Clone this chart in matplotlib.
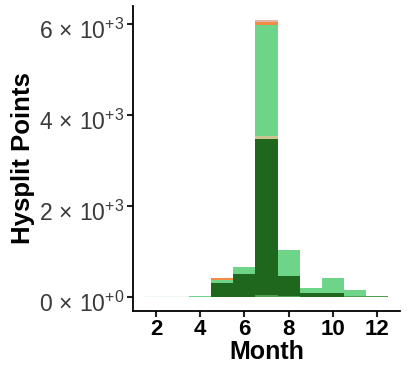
import numpy as np
import matplotlib
matplotlib.use("Agg")
import matplotlib.pyplot as plt
from matplotlib.transforms import ScaledTranslation

plt.rcParams["font.family"] = ["Liberation Sans", "DejaVu Sans"]
plt.rcParams["mathtext.fontset"] = "custom"
plt.rcParams["mathtext.rm"] = "Liberation Sans"
plt.rcParams["mathtext.it"] = "Liberation Sans:italic"
plt.rcParams["mathtext.bf"] = "Liberation Sans:bold"

months = np.arange(1, 13)

# Hysplit point counts per month, stacked by source group (bottom to top)
pale_mint   = [0, 15, 15, 0, 0, 0, 0, 0, 0, 0, 0, 0]
mid_green   = [0, 0, 0, 0, 0, 0, 40, 15, 0, 0, 15, 30]
dark_green  = [0, 0, 0, 0, 300, 500, 3440, 450, 90, 100, 10, 0]
tan         = [0, 0, 0, 0, 0, 0, 50, 0, 0, 0, 0, 0]
light_green = [0, 0, 0, 15, 70, 160, 2440, 565, 110, 320, 130, 0]
orange      = [0, 0, 0, 0, 50, 0, 70, 0, 0, 0, 0, 0]
pink        = [0, 0, 0, 0, 0, 0, 50, 0, 0, 0, 0, 0]

layers = [
    (pale_mint, "#eef6f0"),
    (mid_green, "#4f9f52"),
    (dark_green, "#1f671d"),
    (tan, "#cbc58f"),
    (light_green, "#6dd488"),
    (orange, "#f08a45"),
    (pink, "#e3b3a8"),
]

y_ticks = [0, 2000, 4000, 6000]
y_tick_labels = [r"$0\,\times\,10^{+0}$", r"$2\,\times\,10^{+3}$",
                 r"$4\,\times\,10^{+3}$", r"$6\,\times\,10^{+3}$"]
x_ticks = [2, 4, 6, 8, 10, 12]

fig = plt.figure(figsize=(4.09, 3.71), dpi=100)
ax = fig.add_axes([133 / 409, (371 - 311) / 371, (400 - 133) / 409, (311 - 6) / 371])

bottom = np.zeros(len(months))
for vals, col in layers:
    v = np.array(vals, dtype=float)
    ax.bar(months, v, width=1.0, bottom=bottom, color=col, linewidth=0, align="center")
    bottom += v

top = bottom.max()
lo_x, hi_x = 1.5, 12.5
pad_x = 0.05 * (hi_x - lo_x)
ax.set_xlim(lo_x - pad_x, hi_x + pad_x)
ax.set_ylim(-0.05 * top, 1.05 * top)

for s in ["top", "right"]:
    ax.spines[s].set_visible(False)
for s in ["left", "bottom"]:
    ax.spines[s].set_linewidth(1.3)
    ax.spines[s].set_color("black")

ax.set_yticks(y_ticks)
ax.set_yticklabels(y_tick_labels, fontsize=16.5, color="#3a3a3a")
ax.set_xticks(x_ticks)
ax.set_xticklabels([str(t) for t in x_ticks], fontsize=16, fontweight="bold", color="black")
ax.tick_params(axis="both", length=4, width=1.5, color="#222222", pad=2)

# nudge the y tick labels down so the mantissa sits just below each tick
shift = ScaledTranslation(0, -5 / 100, fig.dpi_scale_trans)
for lbl in ax.get_yticklabels():
    lbl.set_transform(lbl.get_transform() + shift)

ax.set_xlabel("Month", fontsize=18, fontweight="bold", labelpad=0)
ax.set_ylabel("Hysplit Points", fontsize=18.5, fontweight="bold", labelpad=3)

fig.savefig("out.png", dpi=100)
